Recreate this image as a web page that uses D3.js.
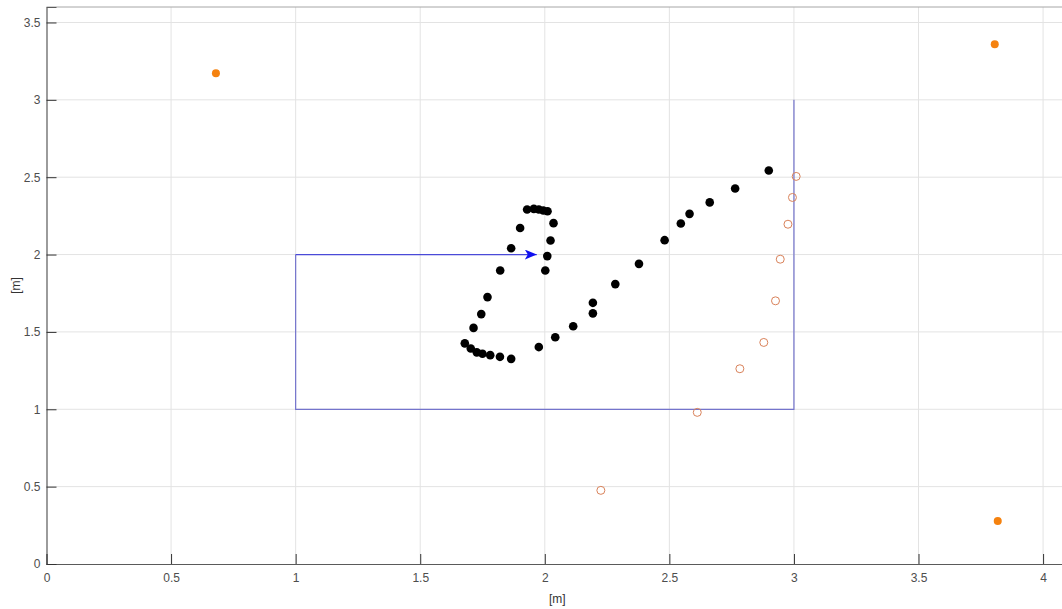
<!DOCTYPE html>
<html>
  <head>
    <meta charset="UTF-8" />
    <title>Trajectory</title>
    <script src="https://d3js.org/d3.v7.min.js"></script>
    <style>
      body {
        margin: 0;
        background-color: #fff;
        overflow: hidden;
      }
      svg {
        display: block;
        font-family: Arial, "Liberation Sans", sans-serif;
      }
      .tick text {
        font-size: 12px;
        fill: #4d4d4d;
      }
      .axis-label {
        font-size: 12px;
        fill: #333;
      }
    </style>
  </head>
  <body>
    <div id="chart"></div>
    <script>
      const width = 1062;
      const height = 609;

      const xTicks = [0, 0.5, 1, 1.5, 2, 2.5, 3, 3.5, 4];
      const yTicks = [0, 0.5, 1, 1.5, 2, 2.5, 3, 3.5];

      // tracked points (black)
      const trackX = [
        2.899, 2.764, 2.662, 2.581, 2.546, 2.481, 2.378, 2.283, 2.193, 2.193,
        2.114, 2.042, 1.976, 1.865, 1.82, 1.781, 1.75, 1.727, 1.703, 1.679,
        1.714, 1.745, 1.77, 1.821, 1.865, 1.901, 1.929, 1.956, 1.976, 1.994,
        2.011, 2.035, 2.023, 2.01, 2.002,
      ];
      const trackY = [
        2.543, 2.427, 2.337, 2.263, 2.201, 2.093, 1.94, 1.809, 1.688, 1.62,
        1.537, 1.466, 1.402, 1.326, 1.339, 1.35, 1.359, 1.368, 1.393, 1.426,
        1.526, 1.615, 1.725, 1.897, 2.041, 2.172, 2.291, 2.295, 2.291, 2.285,
        2.28, 2.203, 2.091, 1.99, 1.897,
      ];

      // estimates (open circles)
      const estX = [3.009, 2.994, 2.976, 2.945, 2.926, 2.879, 2.783, 2.612, 2.225];
      const estY = [2.505, 2.369, 2.196, 1.97, 1.701, 1.432, 1.262, 0.98, 0.476];

      // anchors (filled orange)
      const anchorX = [0.68, 3.806, 3.818];
      const anchorY = [3.172, 3.359, 0.278];

      // reference path and heading arrow
      const pathX = [3, 3, 1, 1];
      const pathY = [3, 1, 1, 2];
      const arrowFrom = [1, 2];
      const arrowTo = [1.968, 2];

      const margin = { top: 7, left: 46.5, bottom: 45 };
      const x = d3.scaleLinear().domain([0, 4.1]).range([margin.left, 1068]);
      const y = d3.scaleLinear().domain([0, 3.6]).range([height - margin.bottom, margin.top]);

      const svg = d3
        .select("#chart")
        .append("svg")
        .attr("width", width)
        .attr("height", height);

      // grid
      const grid = svg.append("g").attr("stroke", "#e3e3e3").attr("stroke-width", 1);
      grid
        .selectAll("line.gx")
        .data(xTicks.slice(1))
        .enter()
        .append("line")
        .attr("x1", (d) => x(d))
        .attr("x2", (d) => x(d))
        .attr("y1", y(0))
        .attr("y2", y(3.6));
      grid
        .selectAll("line.gy")
        .data(yTicks.slice(1))
        .enter()
        .append("line")
        .attr("x1", x(0))
        .attr("x2", x(4.1))
        .attr("y1", (d) => y(d))
        .attr("y2", (d) => y(d));

      // top frame
      svg
        .append("line")
        .attr("x1", x(0))
        .attr("x2", x(4.1))
        .attr("y1", y(3.6))
        .attr("y2", y(3.6))
        .attr("stroke", "#a6a6a6");

      // axes (inward ticks)
      const xAxis = svg
        .append("g")
        .attr("transform", `translate(0,${y(0)})`)
        .call(
          d3.axisBottom(x).tickValues(xTicks).tickSize(-10).tickPadding(16)
            .tickFormat(d3.format("~g"))
        );
      const yAxis = svg
        .append("g")
        .attr("transform", `translate(${x(0)},0)`)
        .call(
          d3.axisLeft(y).tickValues(yTicks).tickSize(-10).tickPadding(16)
            .tickFormat(d3.format("~g"))
        );
      [xAxis, yAxis].forEach((a) => {
        a.select(".domain").attr("stroke", "#5a5a5a").attr("stroke-width", 1.2);
        a.selectAll(".tick line").attr("stroke", "#333");
      });
      xAxis.selectAll(".tick text").attr("dy", "0.2em");
      yAxis.selectAll(".tick text").attr("dx", "10px");

      // axis labels
      svg
        .append("text")
        .attr("class", "axis-label")
        .attr("x", (x(0) + x(4.1)) / 2)
        .attr("y", 603)
        .attr("text-anchor", "middle")
        .text("[m]");
      svg
        .append("text")
        .attr("class", "axis-label")
        .attr("transform", `translate(20,${(y(0) + y(3.6)) / 2}) rotate(-90)`)
        .attr("text-anchor", "middle")
        .text("[m]");

      // reference path
      svg
        .append("path")
        .attr(
          "d",
          d3.line()(pathX.map((d, i) => [x(d), y(pathY[i])]))
        )
        .attr("fill", "none")
        .attr("stroke", "#7474cc")
        .attr("stroke-width", 1.2);

      // arrow
      svg
        .append("defs")
        .append("marker")
        .attr("id", "head")
        .attr("viewBox", "0 0 12 10")
        .attr("refX", 12)
        .attr("refY", 5)
        .attr("markerWidth", 12)
        .attr("markerHeight", 10)
        .attr("markerUnits", "userSpaceOnUse")
        .attr("orient", "auto")
        .append("path")
        .attr("d", "M0,0 L12,5 L0,10 L3,5 Z")
        .attr("fill", "#1010f0");
      svg
        .append("line")
        .attr("x1", x(arrowFrom[0]))
        .attr("y1", y(arrowFrom[1]))
        .attr("x2", x(arrowTo[0]))
        .attr("y2", y(arrowTo[1]))
        .attr("stroke", "#4a4ad8")
        .attr("stroke-width", 1.3)
        .attr("marker-end", "url(#head)");

      // estimates
      svg
        .append("g")
        .selectAll("circle")
        .data(estX)
        .enter()
        .append("circle")
        .attr("cx", (d) => x(d))
        .attr("cy", (d, i) => y(estY[i]))
        .attr("r", 4)
        .attr("fill", "none")
        .attr("stroke", "#d9825a")
        .attr("stroke-width", 1);

      // tracked points
      svg
        .append("g")
        .selectAll("circle")
        .data(trackX)
        .enter()
        .append("circle")
        .attr("cx", (d) => x(d))
        .attr("cy", (d, i) => y(trackY[i]))
        .attr("r", 4.3)
        .attr("fill", "#000");

      // anchors
      svg
        .append("g")
        .selectAll("circle")
        .data(anchorX)
        .enter()
        .append("circle")
        .attr("cx", (d) => x(d))
        .attr("cy", (d, i) => y(anchorY[i]))
        .attr("r", 4)
        .attr("fill", "#f5820f");
    </script>
  </body>
</html>
